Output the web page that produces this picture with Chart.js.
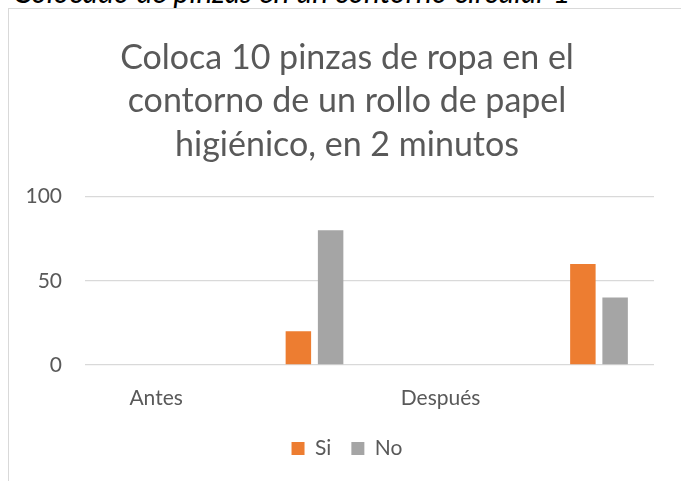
<!DOCTYPE html>
<html>
<head>
<meta charset="utf-8">
<script src="https://cdn.jsdelivr.net/npm/chart.js@4.4.0/dist/chart.umd.min.js"></script>
<style>
  html, body { margin: 0; padding: 0; background: #fff; overflow: hidden; }
  body { width: 681px; height: 481px; position: relative; }
  #caption {
    position: absolute; left: 13px; top: -27px;
    font: italic 30px Lato, sans-serif; color: #000; white-space: nowrap;
  }
  #box {
    position: absolute; left: 8px; top: 8px;
    width: 676px; height: 480px;
    border: 1px solid #d9d9d9;
  }
</style>
</head>
<body>
<div id="caption">Colocado de pinzas en un contorno circular 1</div>
<div id="box"><canvas id="chart"></canvas></div>
<script>
// data
const categories = ["Antes", "", "Después", ""];
const blankValues = [null, null, null, null];
const siValues = [null, 20, null, 60];
const noValues = [null, 80, null, 40];
const yTicks = [0, 50, 100];
const titleLines = [
  "Coloca 10 pinzas de ropa en el",
  "contorno de un rollo de papel",
  "higiénico, en 2 minutos"
];

const textColor = "#595959";
const font = "Lato, sans-serif";

const ctx = document.getElementById("chart").getContext("2d");
new Chart(ctx, {
  type: "bar",
  data: {
    labels: categories,
    datasets: [
      { label: "", data: blankValues, backgroundColor: "#4472c4" },
      { label: "Si", data: siValues, backgroundColor: "#ed7d31" },
      { label: "No", data: noValues, backgroundColor: "#a5a5a5" }
    ]
  },
  options: {
    responsive: true,
    maintainAspectRatio: false,
    animation: false,
    categoryPercentage: 0.68,
    barPercentage: 0.79,
    layout: { padding: { left: 0, right: 0, top: 0, bottom: 20 } },
    plugins: {
      title: {
        display: true,
        text: titleLines,
        color: textColor,
        font: { family: font, size: 34, weight: "normal", lineHeight: 1.28 },
        padding: { top: 27, bottom: 30 }
      },
      legend: {
        position: "bottom",
        labels: {
          color: textColor,
          font: { family: font, size: 21 },
          boxWidth: 13,
          boxHeight: 13,
          padding: 20,
          filter: (item) => item.text !== ""
        }
      },
      tooltip: { enabled: false }
    },
    scales: {
      x: {
        grid: { display: false, drawTicks: false },
        border: { display: false },
        ticks: { color: textColor, font: { family: font, size: 21 }, padding: 21, maxRotation: 0, autoSkip: false },
        afterFit: (s) => { s.height = 53; }
      },
      y: {
        min: 0,
        max: 100,
        grid: { color: "#d9d9d9", lineWidth: 1.3, drawTicks: false },
        border: { display: false },
        ticks: {
          color: textColor,
          font: { family: font, size: 21 },
          padding: 23,
          stepSize: 50,
          callback: (v) => yTicks.includes(v) ? v : null
        },
        afterFit: (s) => { s.width = 76; }
      },
      // empty right-hand space, so the title stays centred on the whole box
      yRight: {
        position: "right",
        min: 0,
        max: 100,
        grid: { display: false },
        border: { display: false },
        ticks: { display: false },
        afterFit: (s) => { s.width = 31; }
      }
    }
  }
});
</script>
</body>
</html>
